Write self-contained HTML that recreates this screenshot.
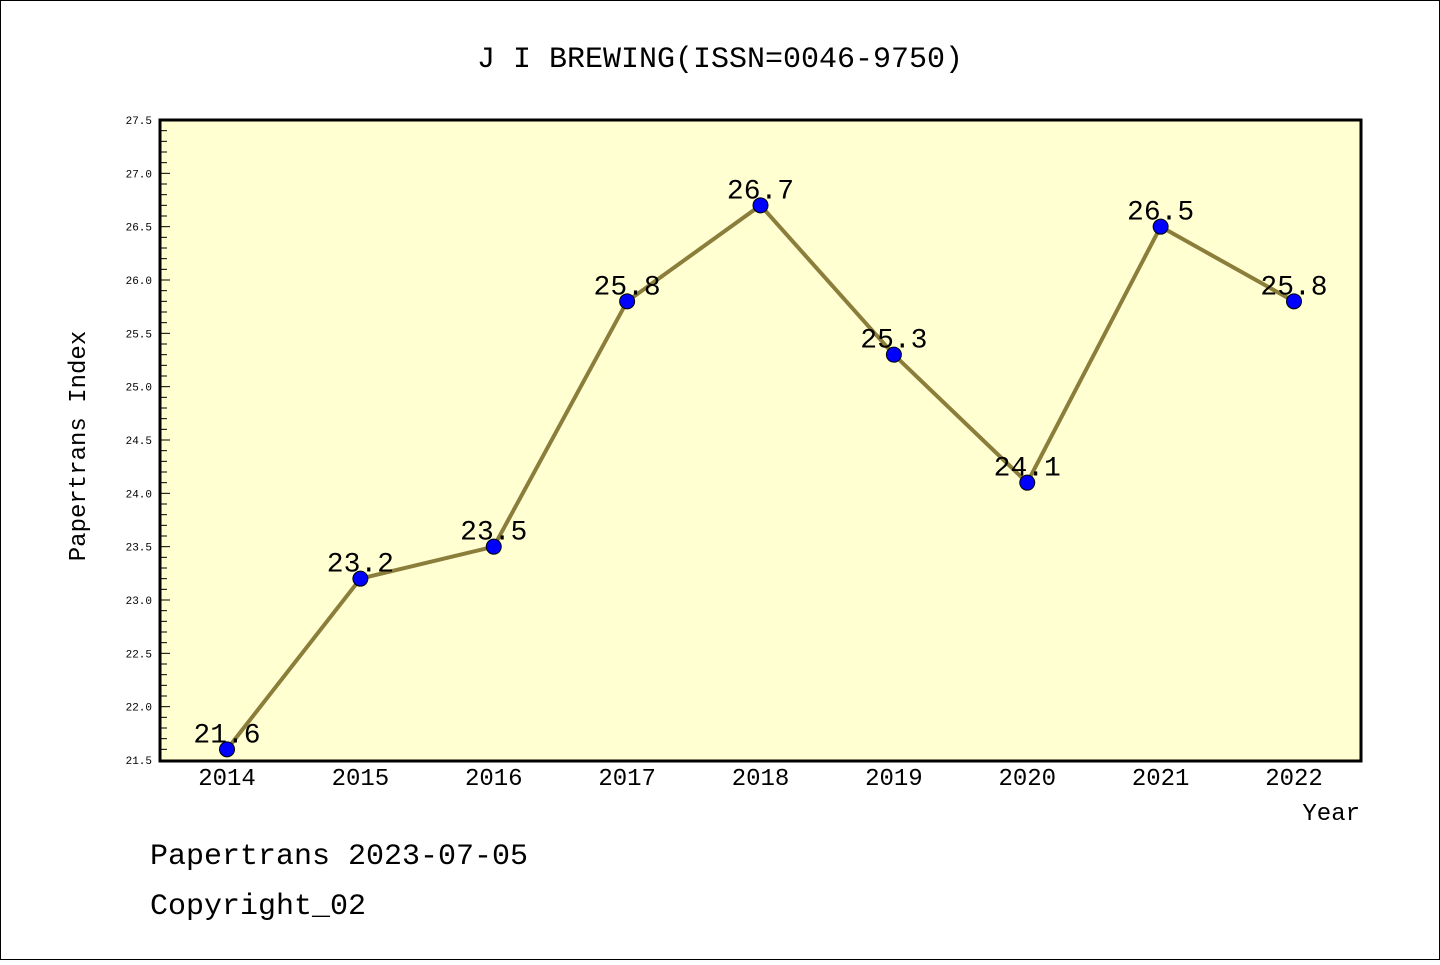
<!DOCTYPE html>
<html><head><meta charset="utf-8"><style>
body{margin:0;background:#fff;}
svg text{font-family:"Liberation Mono","Noto Sans CJK SC",monospace;}
</style></head><body>
<svg id="chart" width="1440" height="960" xmlns="http://www.w3.org/2000/svg">
<rect x="0.5" y="0.5" width="1439" height="959" fill="#fff" stroke="#000"/>
<text x="720" y="67" font-size="30" text-anchor="middle">J I BREWING(ISSN=0046-9750)</text>
<rect x="160" y="120" width="1201" height="641" fill="#ffffd2"/>
<g id="ticks"></g>
<g id="series"></g>
<rect x="160" y="120" width="1201" height="641" fill="none" stroke="#000" stroke-width="3"/>
<text transform="translate(85,446) rotate(-90)" font-size="24" text-anchor="middle">Papertrans Index</text>
<text x="1360" y="820" font-size="24" text-anchor="end">Year</text>
<text x="150" y="864" font-size="30">Papertrans 2023-07-05</text>
<text x="150" y="914" font-size="30">Copyright_02</text>
</svg>
<script>
const years=["2014","2015","2016","2017","2018","2019","2020","2021","2022"];
const values=[21.6,23.2,23.5,25.8,26.7,25.3,24.1,26.5,25.8];
const yTickLabels=["21.5","22.0","22.5","23.0","23.5","24.0","24.5","25.0","25.5","26.0","26.5","27.0","27.5"];
const yMin=21.5,yMax=27.5;
const NS="http://www.w3.org/2000/svg";
function yS(v){return 760-(v-yMin)/(yMax-yMin)*640;}
function xS(i){return 227+i*(1294-227)/(years.length-1);}
function mk(tag,attrs,parent){const e=document.createElementNS(NS,tag);for(const k in attrs)e.setAttribute(k,attrs[k]);parent.appendChild(e);return e;}
const tg=document.getElementById('ticks'),sg=document.getElementById('series');
for(let k=0;k<=Math.round((yMax-yMin)*10);k++){
  const v=yMin+k/10,y=yS(v),major=k%5===0;
  const l=mk('line',{x1:160,x2:160+(major?10:7),y1:y,y2:y,stroke:'#000','stroke-width':1},tg);
  
  
}
yTickLabels.forEach(t=>{
  const e=mk('text',{x:152,y:yS(parseFloat(t))+4,'font-size':11,'text-anchor':'end'},tg);
  e.textContent=t;
  
  
});
years.forEach((yr,i)=>{
  const e=mk('text',{x:xS(i),y:785,'font-size':24,'text-anchor':'middle'},tg);
  e.textContent=yr;
  
  
});
const pl=mk('polyline',{points:values.map((v,i)=>xS(i)+','+yS(v)).join(' '),fill:'none',stroke:'#8b7d3a','stroke-width':4},sg);


values.forEach((v,i)=>{
  const c=mk('circle',{cx:xS(i),cy:yS(v),r:7.5,fill:'#0000ff',stroke:'#000','stroke-width':1},sg);
  
  
  const t=mk('text',{x:xS(i),y:yS(v)-7,'font-size':28,'text-anchor':'middle'},sg);
  t.textContent=v.toFixed(1);
  
  
});
</script>
</body></html>
